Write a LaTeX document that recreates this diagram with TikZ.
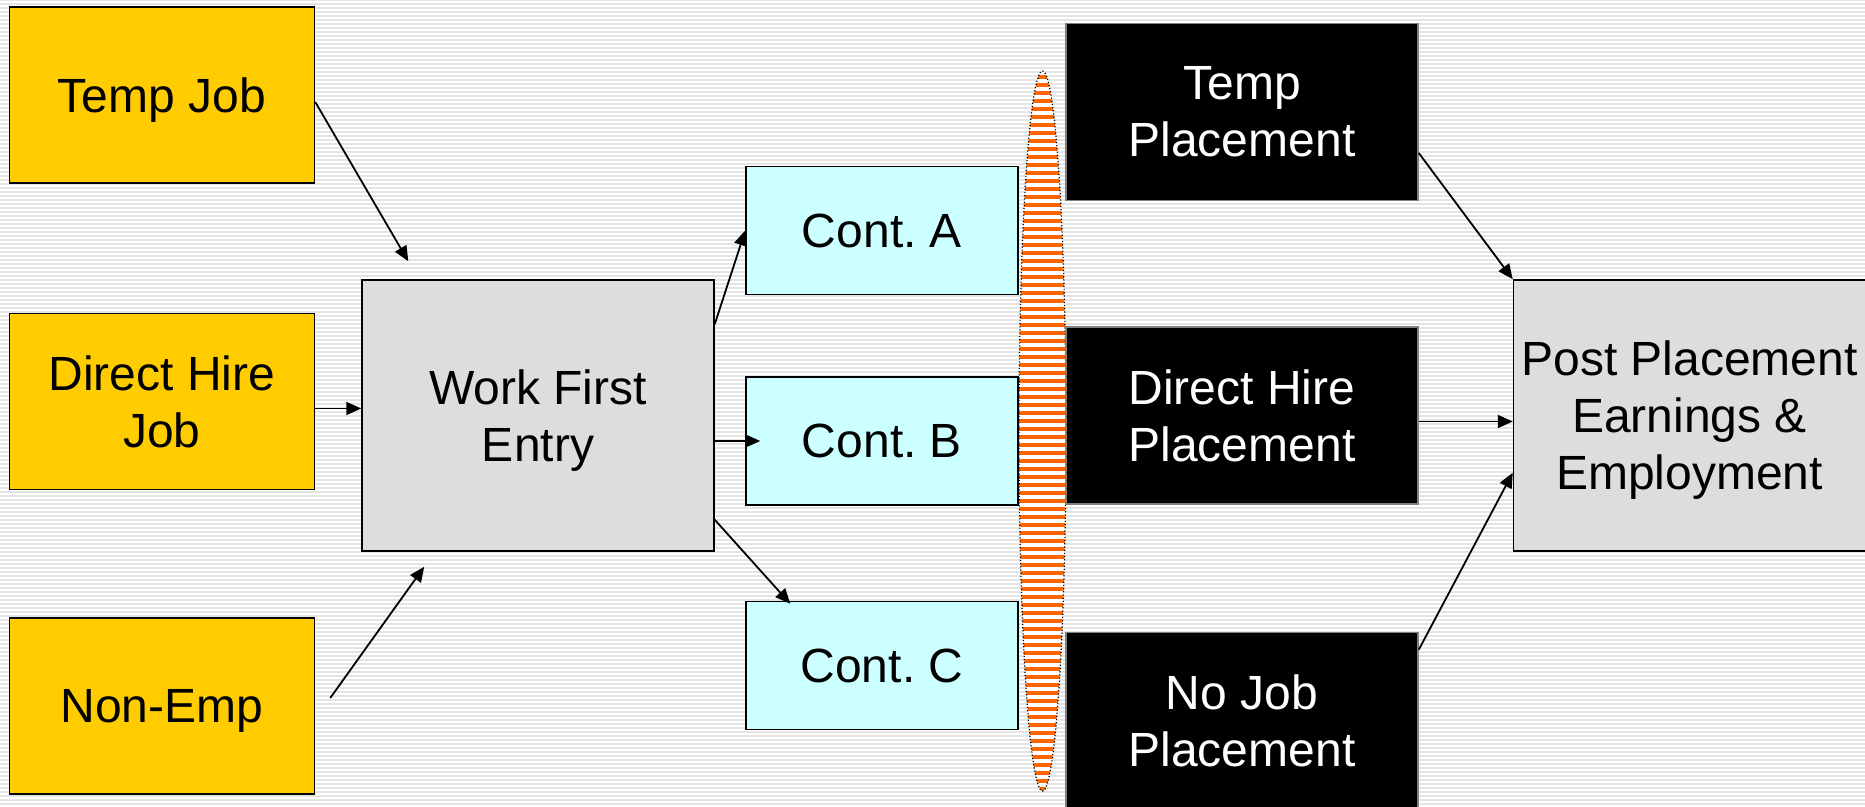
\documentclass[tikz,border=0pt]{standalone}
\usepackage{fontspec}
\setmainfont{Liberation Sans}
\usepackage{tikz}
\usetikzlibrary{shapes.geometric, arrows.meta, positioning, calc}
\frenchspacing

\definecolor{jobyellow}{HTML}{FFCC00}
\definecolor{entrygray}{HTML}{DDDDDD}
\definecolor{contcyan}{HTML}{CCFFFF}
\definecolor{seporange}{HTML}{FF6600}
\definecolor{stripegray}{HTML}{E4E4E4}

\begin{document}
\begin{tikzpicture}[
  x=0.5pt, y=0.5pt,
  every node/.style={font=\fontsize{24}{28.5}\selectfont},
  box/.style={rectangle, draw=black, line width=0.75pt, inner sep=0pt, text depth=0pt, align=center},
  job/.style={box, fill=jobyellow, minimum width=152.5pt, minimum height=88pt},
  entry/.style={box, fill=entrygray, minimum width=176pt, minimum height=135.5pt},
  cont/.style={box, fill=contcyan, minimum width=136pt, minimum height=64pt},
  place/.style={box, draw=gray, fill=black, text=white, minimum width=176pt, minimum height=88.5pt},
  arrow/.style={-{Triangle[length=7.5pt, width=6.5pt]}, line width=0.9pt}
]

% Striped background
\useasboundingbox (0,0) rectangle (1865,807);
\fill[stripegray] (0,0) rectangle (1865,807);
\foreach \y in {0,4,...,804}
  \fill[white] (0,\y) rectangle (1865,\y+2);

% Starting situations
\node[job] (tempjob) at (162,712) {Temp Job};
\node[job, below=64.5pt of tempjob] (dhjob) {Direct Hire\\Job};
\node[job, below=63.5pt of dhjob] (nonemp) {Non-Emp};

% Entry and contacts
\node[entry] (wfe) at (538,391.5) {Work First\\Entry};
\node[cont] (contA) at (882,576.5) {Cont. A};
\node[cont, below=40.5pt of contA] (contB) {Cont. B};
\node[cont, below=47.5pt of contB] (contC) {Cont. C};

% Separator
\node[ellipse, inner sep=0pt, minimum width=23.5pt, minimum height=360pt,
  draw=black, densely dotted, line width=0.6pt,
  path picture={
    \fill[white] (path picture bounding box.south west) rectangle (path picture bounding box.north east);
    \foreach \k in {0,...,90}
      \fill[seporange] ($(path picture bounding box.south west)+(0,8*\k)$) rectangle ++(47,4);
  }] (sep) at (1042.5,376) {};

% Placements
\node[place] (tempplace) at (1242,695) {Temp\\Placement};
\node[place, below=62.5pt of tempplace] (dhplace) {Direct Hire\\Placement};
\node[place, below=63.5pt of dhplace] (nojob) {No Job\\Placement};

% Outcome
\node[entry] (post) at (1689.5,391.5) {Post Placement\\Earnings \&\\Employment};

% Arrows into entry
\draw[arrow] ($(tempjob.east)+(0,-7)$) -- ($(wfe.north west)+(47,18)$);
\draw[arrow] ($(dhjob.east)+(0,-7)$) -- ($(dhjob.east -| wfe.west)+(0,-7)$);
\draw[arrow] ($(nonemp.east)+(15,8)$) -- ($(wfe.south west)+(63,-15)$);

% Arrows to contacts
\draw[arrow] ($(wfe.north east)+(0,-45)$) -- (contA.west);
\draw[arrow] (contB.west -| wfe.east) -- ($(contB.west)+(15,0)$);
\draw[arrow] ($(wfe.south east)+(0,32)$) -- ($(contC.north west)+(45,-3)$);

% Arrows into outcome
\draw[arrow] ($(tempplace.east)+(0,-41)$) -- (post.north west);
\draw[arrow] ($(dhplace.east)+(0,-6)$) -- ($(dhplace.east -| post.west)+(0,-6)$);
\draw[arrow] ($(nojob.north east)+(0,-18)$) -- ($(post.south west)+(0,79)$);

\end{tikzpicture}
\end{document}
